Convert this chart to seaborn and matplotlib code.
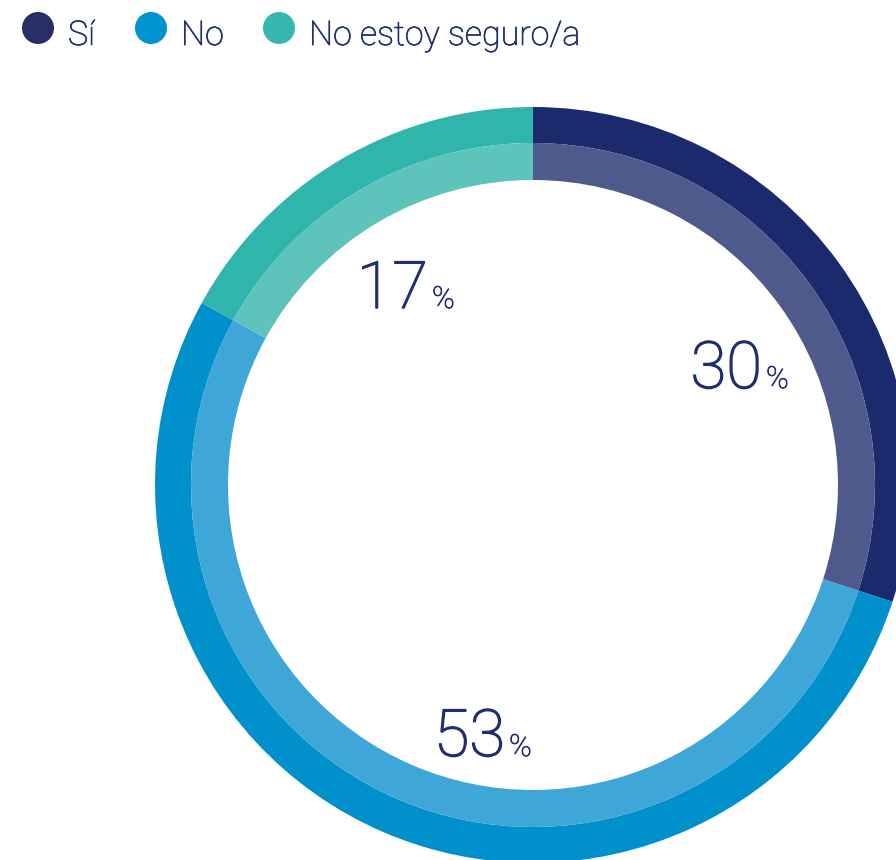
import matplotlib.pyplot as plt
import matplotlib.patheffects as pe
import seaborn as sns

# ==============================
# Datos
# ==============================
categorias = ["Sí", "No", "No estoy seguro/a"]
valores = [30, 53, 17]
colores_ext = ["#1b2a6c", "#0091cd", "#2fb5ab"]
colores_int = ["#4f5a8c", "#3fa7d7", "#5ec3bb"]
colores_leyenda = ["#262f66", "#0093cf", "#36b7af"]
color_texto = "#1f2f6e"

sns.set_theme(style="white")
plt.rcParams["font.family"] = ["Roboto", "DejaVu Sans"]

fig = plt.figure(figsize=(8.96, 8.6), dpi=100)
ax = fig.add_axes([0, 0, 1, 1])

# coordenadas en pixeles (origen abajo-izquierda)
cx, cy = 533, 860 - 485
r_ext, r_mid, r_int = 378, 342, 305

ax.pie(valores, colors=colores_ext, center=(cx, cy), radius=r_ext,
       startangle=90, counterclock=False, frame=True,
       wedgeprops=dict(width=r_ext - r_mid, linewidth=0))
ax.pie(valores, colors=colores_int, center=(cx, cy), radius=r_mid,
       startangle=90, counterclock=False, frame=True,
       wedgeprops=dict(width=r_mid - r_int, linewidth=0))

# trazo fino para engrosar un poco la fuente light
grueso = [pe.withStroke(linewidth=1.0, foreground=color_texto)]
fino = [pe.withStroke(linewidth=0.5, foreground=color_texto)]

# etiquetas de porcentaje
pos_etiquetas = [(762, 860 - 388), (505, 860 - 756), (428, 860 - 308)]
for v, (x, y) in zip(valores, pos_etiquetas):
    ax.text(x, y, str(v), ha="right", va="baseline", fontsize=47,
            fontweight="light", color=color_texto, path_effects=grueso)
    ax.text(x + 4, y, "%", ha="left", va="baseline", fontsize=22,
            fontweight="light", color=color_texto, path_effects=fino)

# leyenda
pos_leyenda = [38, 151, 279]
for cat, col, x in zip(categorias, colores_leyenda, pos_leyenda):
    ax.add_patch(plt.Circle((x, 860 - 28), 16, color=col, lw=0))
    ax.text(x + 30, 860 - 45, cat, ha="left", va="baseline", fontsize=24.5,
            fontweight="light", color=color_texto, path_effects=fino)

ax.set_xlim(0, 896)
ax.set_ylim(0, 860)
ax.set_aspect("equal")
ax.axis("off")

plt.savefig("out.png", dpi=100)
plt.close()
